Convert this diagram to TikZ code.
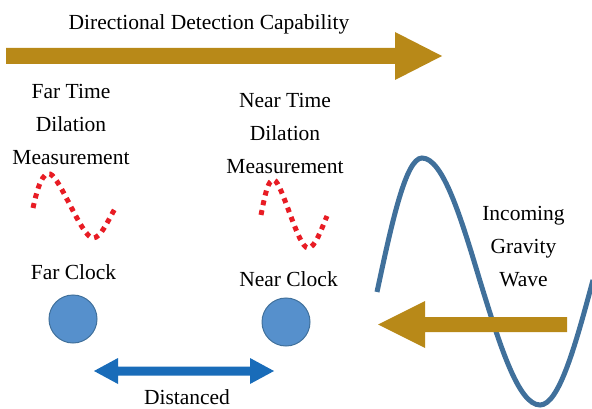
\documentclass[tikz,border=0pt]{standalone}
\usepackage{fontspec}
\setmainfont{Liberation Serif}
\definecolor{arrowgold}{RGB}{184,137,24}
\definecolor{clockblue}{RGB}{86,144,204}
\definecolor{clockedge}{RGB}{65,113,156}
\definecolor{dotred}{RGB}{232,28,36}
\definecolor{wavblue}{RGB}{64,112,155}
\definecolor{darrowblue}{RGB}{25,108,185}
\begin{document}
\begin{tikzpicture}[x=1pt,y=-1pt,
  lbl/.style={font=\fontsize{21.5}{33}\selectfont, inner sep=0pt, align=center},
  gold/.style={fill=arrowgold, draw=none},
  clock/.style={circle, minimum size=48pt, inner sep=0pt, fill=clockblue, draw=clockedge, line width=1pt},
  dotwave/.style={draw=dotred, line width=5pt, dash pattern=on 5pt off 5pt},
  gwave/.style={draw=wavblue, line width=5pt},
  distarrow/.style={fill=darrowblue, draw=none}]
\useasboundingbox (0,0) rectangle (592,409);
% gravity wave
\begin{scope}
\clip (0,0) rectangle (592,409);
\draw[gwave] (377,292) sin (422,158) cos (480,281) sin (540,405) cos (593,280);
\end{scope}
% top arrow
\fill[gold] (6,48) -- (395,48) -- (395,32) -- (442,56) -- (395,80) -- (395,64) -- (6,64) -- cycle;
% incoming arrow
\fill[gold] (567,317) -- (425,317) -- (425,301) -- (378,324.5) -- (425,348) -- (425,332) -- (567,332) -- cycle;
% texts
\node[lbl, anchor=base] (title) at (209,30) {Directional Detection Capability};
\node[lbl] (farmeas) at (71,124.5) {Far Time\\Dilation\\Measurement};
\node[lbl] (nearmeas) at (285,133.5) {Near Time\\Dilation\\Measurement};
\node[lbl] (gw) at (523.5,246.5) {Incoming\\Gravity\\Wave};
\node[lbl, anchor=base] (farlbl) at (73.5,279) {Far Clock};
\node[lbl, anchor=base] (nearlbl) at (288.5,286) {Near Clock};
\node[lbl, anchor=base] (dist) at (187,404) {Distanced};
% clocks
\node[clock] (farclock) at (73,319) {};
\node[clock] (nearclock) at (286,322) {};
% dotted measurement waves
\draw[dotwave] (33,208) .. controls (38,185) and (43,172) .. (50,174) .. controls (60,177) and (82,238) .. (93,238) .. controls (101,238) and (108,220) .. (116,207);
\draw[dotwave] (261,215) .. controls (265,195) and (268,179) .. (274,180) .. controls (282,182) and (298,248) .. (308,248) .. controls (315,248) and (321,230) .. (327,216);
% distance double arrow
\coordinate (dl) at (94,371);
\coordinate (dr) at (274,371);
\fill[distarrow] (dl) -- ++(24,-13) -- ++(0,8.5) -- ([xshift=-24pt,yshift=4.5pt]dr) -- ++(0,-8.5) -- (dr) -- ++(-24,13) -- ++(0,-8.5) -- ([xshift=24pt,yshift=-4.5pt]dl) -- ++(0,8.5) -- cycle;
\end{tikzpicture}
\end{document}
